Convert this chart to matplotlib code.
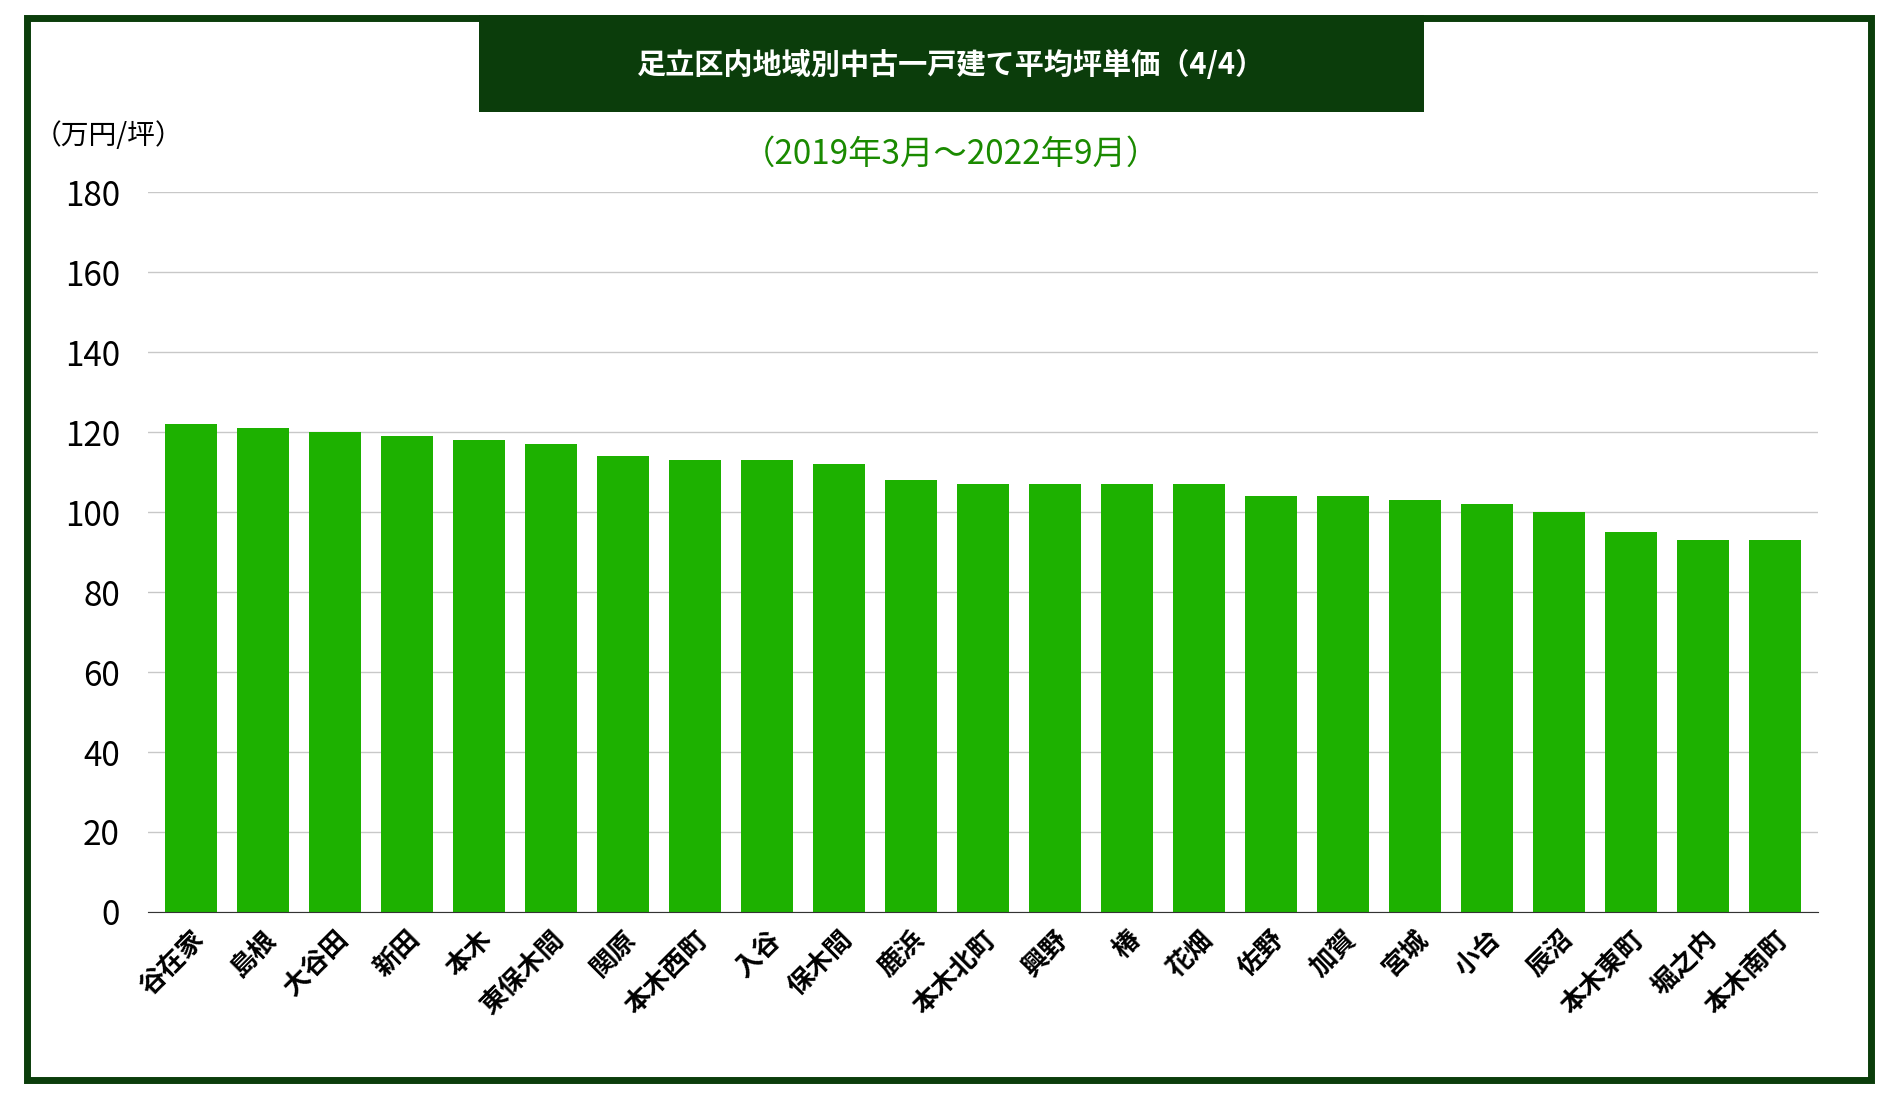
import matplotlib
matplotlib.use("Agg")
import matplotlib.pyplot as plt
from matplotlib.patches import Rectangle

plt.rcParams["font.family"] = "Noto Sans CJK JP"

# --- データ ---
areas = ["谷在家", "島根", "大谷田", "新田", "本木", "東保木間", "関原", "本木西町", "入谷",
         "保木間", "鹿浜", "本木北町", "興野", "椿", "花畑", "佐野", "加賀", "宮城", "小台",
         "辰沼", "本木東町", "堀之内", "本木南町"]
prices = [122, 121, 120, 119, 118, 117, 114, 113, 113, 112, 108, 107, 107, 107, 107,
          104, 104, 103, 102, 100, 95, 93, 93]
y_ticks = [0, 20, 40, 60, 80, 100, 120, 140, 160, 180]

TITLE = "足立区内地域別中古一戸建て平均坪単価（4/4）"
SUBTITLE = "（2019年3月～2022年9月）"
DARK = "#0b3d0b"
BAR = "#1db100"

fig = plt.figure(figsize=(18.94, 11), dpi=100)

# 外枠
fig.patches.append(Rectangle((0.014, 0.018), 0.974, 0.966, transform=fig.transFigure,
                             fill=False, edgecolor=DARK, linewidth=5))
# タイトル帯
fig.patches.append(Rectangle((0.253, 0.898), 0.499, 0.088, transform=fig.transFigure,
                             facecolor=DARK, edgecolor="none"))
fig.text(0.502, 0.941, TITLE, color="white", fontsize=21, fontweight="bold",
         ha="center", va="center")
fig.text(0.502, 0.860, SUBTITLE, color="#1a8a00", fontsize=24, ha="center", va="center")
fig.text(0.018, 0.876, "（万円/坪）", fontsize=20, ha="left", va="center")

ax = fig.add_axes([0.078, 0.171, 0.882, 0.654])
x = range(len(areas))
ax.bar(x, prices, width=0.72, color=BAR, zorder=2)
ax.set_ylim(0, 180)
ax.set_yticks(y_ticks)
ax.set_xlim(-0.6, len(areas) - 0.4)
ax.set_xticks(list(x))
ax.set_xticklabels(areas, rotation=45, ha="right", rotation_mode="anchor",
                   fontsize=19, fontweight="bold")
ax.tick_params(axis="y", labelsize=24, length=0, pad=20)
ax.tick_params(axis="x", length=0, pad=10)
ax.grid(axis="y", color="#c8c8c8", linewidth=1, zorder=0)
for s in ["top", "right", "left"]:
    ax.spines[s].set_visible(False)
ax.spines["bottom"].set_color("#333333")

fig.savefig("out.png", dpi=100)
